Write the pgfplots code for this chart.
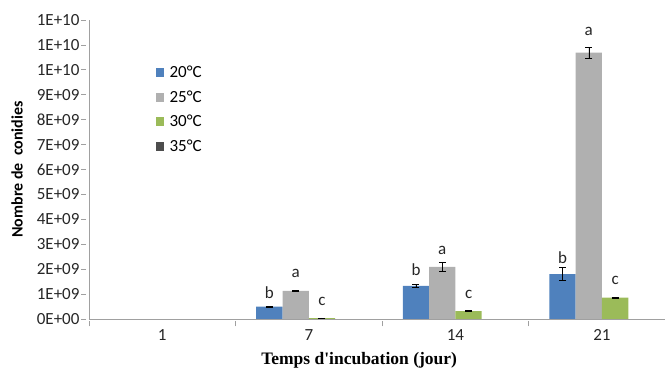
\documentclass[border=0pt]{standalone}
\usepackage{pgfplots}
\pgfplotsset{compat=1.18}
\usepackage{fontspec}
\setmainfont{Carlito}
\newfontfamily\timesf{Liberation Serif}
\definecolor{cblue}{HTML}{4F81BD}
\definecolor{cgrey}{HTML}{B0B0B0}
\definecolor{cgreen}{HTML}{9BBB59}
\definecolor{cdark}{HTML}{4D4D4D}
\definecolor{axgrey}{HTML}{A0A0A0}
\begin{document}
\begin{tikzpicture}[x=1pt,y=1pt]
\useasboundingbox (0,0) rectangle (665,374);
\begin{axis}[
  at={(89pt,55pt)}, anchor=south west,
  scale only axis, width=576pt, height=299pt,
  ybar=0pt, bar width=26.3pt,
  xmin=-0.5, xmax=3.43,
  ymin=0, ymax=1.2e10,
  axis x line*=bottom, axis y line*=left,
  axis line style={axgrey, line width=0.8pt, -},
  xtick={0,1,2,3}, xticklabels={1,7,14,21},
  major x tick style={draw=none},
  minor xtick={-0.5,0.5,1.5,2.5},
  minor tick length=5pt,
  minor x tick style={axgrey, line width=0.8pt, yshift=-2.5pt},
  ytick={0,1e9,2e9,3e9,4e9,5e9,6e9,7e9,8e9,9e9,1e10,1.1e10,1.2e10},
  yticklabels={0E+00,1E+09,2E+09,3E+09,4E+09,5E+09,6E+09,7E+09,8E+09,9E+09,1E+10,1E+10,1E+10},
  scaled y ticks=false,
  major tick length=5pt,
  y tick style={axgrey, line width=0.8pt, xshift=-2.5pt},
  tick align=outside,
  ticklabel style={font=\fontsize{17}{18}\selectfont, text=black!85},
  x tick label style={yshift=-2pt},
  y tick label style={xshift=-1pt},
  ylabel={\bfseries Nombre de\ \ conidies},
  ylabel style={font=\fontsize{16}{17}\selectfont, at={(-72pt,0.5)}, anchor=center},
  xlabel={\timesf\bfseries Temps d'incubation (jour)},
  xlabel style={font=\fontsize{17.5}{18}\selectfont, at={(0.469,-41pt)}, anchor=center},
  legend style={at={(0.110,0.86)}, anchor=north west, draw=none, fill=none,
    font=\fontsize{17}{18}\selectfont, row sep=7.5pt},
  legend cell align=left,
  legend image code/.code={\path[#1,draw=none] (1pt,-4.5pt) rectangle (9.5pt,4.5pt);\path (13pt,0pt);},
  error bars/error bar style={black, line width=0.6pt},
  error bars/error mark options={black, line width=0.6pt, mark size=3.5pt, rotate=90},
  clip=false,
]
\addplot[fill=cblue, draw=none, bar shift=-39.45pt, error bars/.cd, y dir=both, y explicit]
  coordinates {(1,5.0e8) +- (0,0.02e9) (2,1.33e9) +- (0,0.06e9) (3,1.80e9) +- (0,0.26e9)};
\addplot[fill=cgrey, draw=none, bar shift=-13.15pt, error bars/.cd, y dir=both, y explicit]
  coordinates {(1,1.13e9) +- (0,0.02e9) (2,2.09e9) +- (0,0.17e9) (3,1.069e10) +- (0,0.23e9)};
\addplot[fill=cgreen, draw=none, bar shift=13.15pt, error bars/.cd, y dir=both, y explicit]
  coordinates {(1,0.03e9) +- (0,0.01e9) (2,0.32e9) +- (0,0.01e9) (3,0.86e9) +- (0,0.01e9)};
\addlegendimage{fill=cdark, draw=none}
\legend{20°C,25°C,30°C,35°C}
\begin{scope}[every node/.style={font=\fontsize{17}{18}\selectfont, text=black!85}]
\node at (axis cs:0.731,1.05e9) {b};
\node at (axis cs:0.910,1.81e9) {a};
\node at (axis cs:1.090,0.72e9) {c};
\node at (axis cs:1.731,2.00e9) {b};
\node at (axis cs:1.910,2.75e9) {a};
\node at (axis cs:2.090,0.97e9) {c};
\node at (axis cs:2.731,2.45e9) {b};
\node at (axis cs:2.910,1.156e10) {a};
\node at (axis cs:3.090,1.53e9) {c};
\end{scope}
\end{axis}
\end{tikzpicture}
\end{document}
